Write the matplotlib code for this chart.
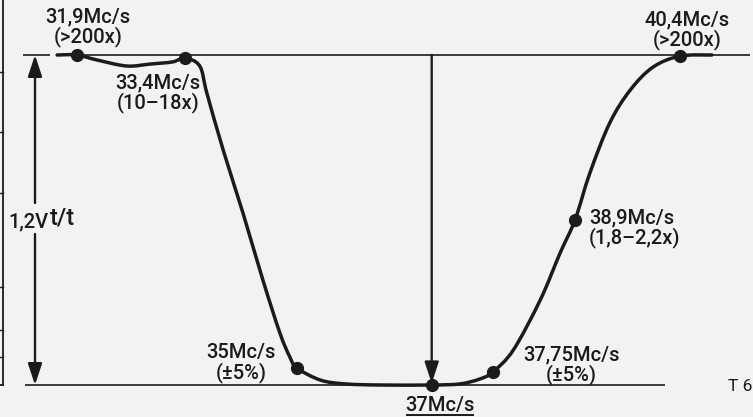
import numpy as np
import matplotlib
matplotlib.use("Agg")
import matplotlib.pyplot as plt
from matplotlib.path import Path
from matplotlib.patches import PathPatch

# ---- data (frequency in Mc/s, relative level; 1.2 = top reference line) ----
curve_freq = [31.62, 31.90, 32.18, 32.60, 32.93, 33.25, 33.42, 33.63, 33.73, 33.96,
              34.24, 34.52, 34.76, 34.90, 35.00, 35.33, 35.68, 36.17, 36.90, 37.30,
              37.58, 37.76, 38.05, 38.43, 38.71, 38.92, 39.13, 39.41, 39.70, 40.02,
              40.40, 40.85]
curve_level = [1.200, 1.200, 1.182, 1.160, 1.167, 1.175, 1.189, 1.160, 1.062, 0.855,
               0.625, 0.382, 0.189, 0.102, 0.062, 0.018, 0.004, 0.000, 0.000, 0.004,
               0.022, 0.047, 0.127, 0.309, 0.480, 0.600, 0.771, 0.953, 1.073, 1.156,
               1.196, 1.200]
dot_freq = [31.90, 33.42, 35.00, 36.90, 37.76, 38.92, 40.40]
dot_level = [1.200, 1.189, 0.062, 0.000, 0.047, 0.600, 1.196]
dot_labels = ["31,9Mc/s\n(>200x)", "33,4Mc/s\n(10–18x)", "35Mc/s\n(±5%)", "37Mc/s",
              "37,75Mc/s\n(±5%)", "38,9Mc/s\n(1,8–2,2x)", "40,4Mc/s\n(>200x)"]
TOP, BOTTOM = 1.2, 0.0

W, H = 753, 417
ink = "#1b1b1b"
paper = "#f2f2f0"

fig = plt.figure(figsize=(W / 100, H / 100), dpi=100, facecolor=paper)
ax = fig.add_axes([0, 0, 1, 1])
ax.set_facecolor(paper)
# pixel-calibrated scales
x_per_px = 1 / 70.94
y_per_px = 1.2 / 330
ax.set_xlim(31.9 - 77 * x_per_px, 31.9 + (W - 77) * x_per_px)
ax.set_ylim(-(H - 385) * y_per_px, 385 * y_per_px)
ax.axis("off")

def fx(px):
    return 31.9 + (px - 77) * x_per_px

def pt(px, py):
    return (px / W, 1 - py / H)

# reference lines
ax.plot([fx(23), fx(50)], [TOP, TOP], color=ink, lw=1.2, solid_capstyle="butt")
ax.plot([fx(57), fx(750)], [TOP, TOP], color=ink, lw=1.2, solid_capstyle="butt")
ax.plot([fx(25), fx(665)], [BOTTOM, BOTTOM], color=ink, lw=1.2, solid_capstyle="butt")

# left edge frame line with ticks
ax.plot([fx(3), fx(3)], [BOTTOM, 1.4], color=ink, lw=1.3)
for ty in [72, 132, 193, 287, 330, 357]:
    yy = (385 - ty) * y_per_px
    ax.plot([fx(0), fx(3)], [yy, yy], color=ink, lw=1.0)
ax.plot([fx(0), fx(3)], [BOTTOM, BOTTOM], color=ink, lw=1.3)

# smooth curve through read points (Catmull-Rom as cubic Bezier)
P = np.column_stack([curve_freq, curve_level])
verts = [tuple(P[0])]
codes = [Path.MOVETO]
n = len(P)
for i in range(n - 1):
    p0 = P[i - 1] if i > 0 else P[i]
    p1 = P[i]
    p2 = P[i + 1]
    p3 = P[i + 2] if i + 2 < n else P[i + 1]
    c1 = p1 + (p2 - p0) / 6
    c2 = p2 - (p3 - p1) / 6
    verts += [tuple(c1), tuple(c2), tuple(p2)]
    codes += [Path.CURVE4] * 3
ax.add_patch(PathPatch(Path(verts, codes), fill=False, edgecolor=ink, lw=2.5,
                       capstyle="round", joinstyle="round"))

# dots
ax.plot(dot_freq, dot_level, "o", color=ink, ms=8.5, zorder=5)

# arrows
arrow_kw = dict(arrowstyle="-|>,head_length=1.0,head_width=0.33", color=ink,
                lw=1.7, mutation_scale=13, shrinkA=0, shrinkB=0)
xa = fx(35)
ax.annotate("", xy=(xa, TOP), xytext=(xa, (385 - 203) * y_per_px), arrowprops=arrow_kw)
ax.annotate("", xy=(xa, BOTTOM), xytext=(xa, (385 - 234) * y_per_px), arrowprops=arrow_kw)
ax.annotate("", xy=(dot_freq[3], BOTTOM + 0.006), xytext=(dot_freq[3], TOP),
            arrowprops=arrow_kw)

# labels
font = dict(family=["Roboto", "DejaVu Sans"], fontsize=14.5, fontweight="medium",
            color=ink, linespacing=1.0)
tr = ax.transAxes
ax.text(*pt(88, 7), dot_labels[0], ha="center", va="top", transform=tr, **font)
ax.text(*pt(158, 73), dot_labels[1], ha="center", va="top", transform=tr, **font)
ax.text(*pt(241, 343), dot_labels[2], ha="center", va="top", transform=tr, **font)
ax.text(*pt(440, 396), dot_labels[3], ha="center", va="top", transform=tr, **font)
ax.plot([fx(407), fx(473)], [-(415 - 385) * y_per_px] * 2, color=ink, lw=1.4)
ax.text(*pt(571, 345), dot_labels[4], ha="center", va="top", transform=tr, **font)
ax.text(*pt(589, 208), dot_labels[5], ha="left", va="top", transform=tr, **font)
ax.text(*pt(687, 10), dot_labels[6], ha="center", va="top", transform=tr, **font)

ax.text(*pt(8, 227), "1,2V", ha="left", va="baseline", transform=tr, **font)
t_font = dict(font, fontsize=17)
ax.text(*pt(50, 225), "t/t", ha="left", va="baseline", transform=tr, **t_font)
ax.text(*pt(728, 391), "T 6", ha="left", va="baseline", transform=tr,
        family=["Roboto", "DejaVu Sans"], fontsize=12.5, color=ink)

fig.savefig("out.png", dpi=100, facecolor=paper)
